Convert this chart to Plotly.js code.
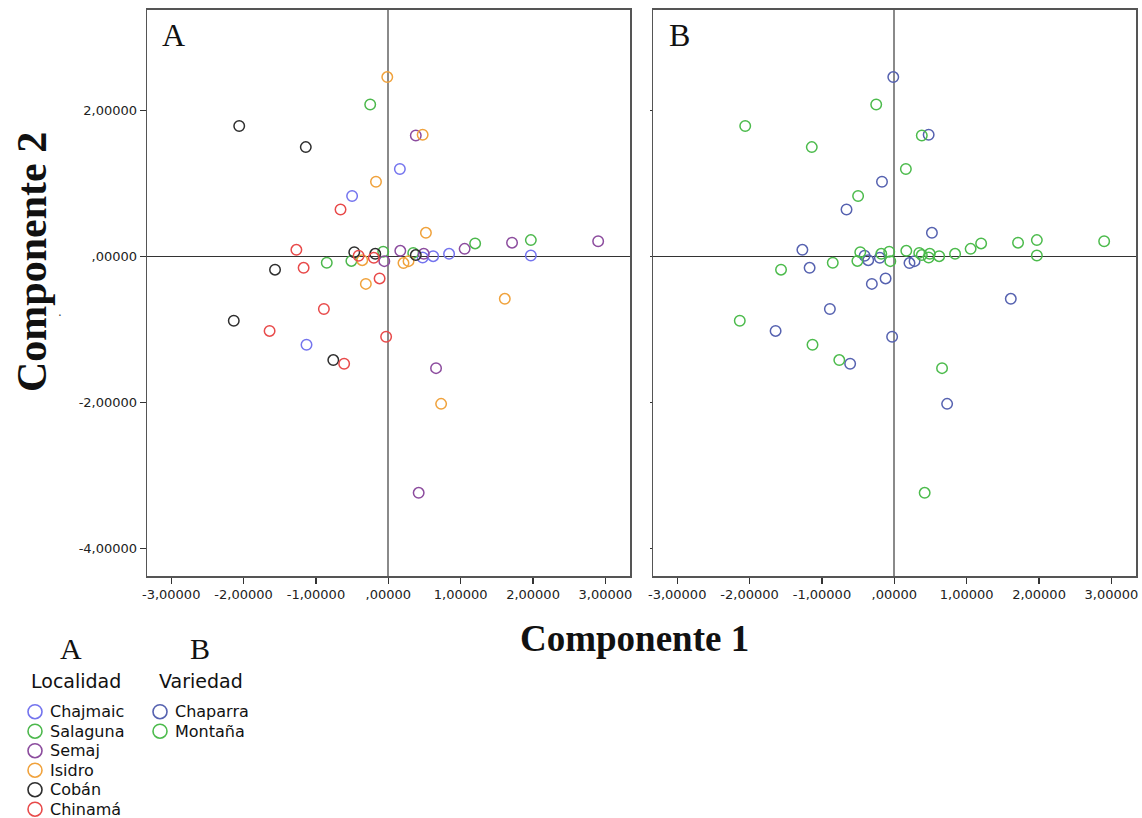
<!DOCTYPE html>
<html>
<head>
<meta charset="utf-8">
<script src="https://cdn.plot.ly/plotly-3.0.1.min.js"></script>
<style>html,body{margin:0;padding:0;background:#fff;}#chart{width:1142px;height:818px;}</style>
</head>
<body>
<div id="chart"></div>
<script>
// ---- Data ----
const localidades = ['Chajmaic', 'Salaguna', 'Semaj', 'Isidro', 'Cobán', 'Chinamá'];
const variedades = ['Chaparra', 'Montaña'];
const variedadDeLocalidad = ['Montaña', 'Montaña', 'Montaña', 'Chaparra', 'Montaña', 'Chaparra'];

const chajmaicX = [-0.50, 0.16, -1.13, 0.475, 0.62, 0.84, 1.97];
const chajmaicY = [0.83, 1.20, -1.21, -0.014, 0.005, 0.037, 0.014];
const salagunaX = [-0.25, -0.51, -0.85, -0.07, 0.345, 1.20, 1.97];
const salagunaY = [2.085, -0.06, -0.086, 0.065, 0.05, 0.18, 0.225];
const semajX = [0.38, -0.055, 0.166, 0.49, 1.055, 1.71, 2.90, 0.66, 0.42];
const semajY = [1.66, -0.063, 0.078, 0.037, 0.105, 0.19, 0.21, -1.53, -3.24];
const isidroX = [-0.014, -0.17, 0.475, -0.36, -0.31, 0.52, 0.21, 0.28, 1.61, 0.73];
const isidroY = [2.46, 1.025, 1.67, -0.05, -0.375, 0.325, -0.09, -0.063, -0.58, -2.02];
const cobanX = [-2.06, -1.14, -0.47, -1.565, -0.18, 0.38, -2.135, -0.76];
const cobanY = [1.79, 1.50, 0.06, -0.18, 0.037, 0.02, -0.88, -1.42];
const chinamaX = [-0.66, -1.27, -0.41, -1.17, -0.20, -0.12, -0.89, -1.64, -0.61, -0.03];
const chinamaY = [0.645, 0.092, 0.01, -0.155, -0.018, -0.30, -0.72, -1.02, -1.47, -1.10];

const xTickVals = [-3, -2, -1, 0, 1, 2, 3];
const xTickText = ['-3,00000', '-2,00000', '-1,00000', ',00000', '1,00000', '2,00000', '3,00000'];
const yTickVals = [2, 0, -2, -4];
const yTickText = ['2,00000', ',00000', '-2,00000', '-4,00000'];

// ---- Styles ----
const coloresLocalidad = ['#7474ee', '#4cb84c', '#8c4c9e', '#f0a23c', '#2e2e2e', '#e84a4a'];
const coloresVariedad = ['#5662b0', '#4cbb4c'];

const W = 1142, H = 818;
const px = v => v / W;
const py = v => 1 - v / H;

const seriesX = [chajmaicX, salagunaX, semajX, isidroX, cobanX, chinamaX];
const seriesY = [chajmaicY, salagunaY, semajY, isidroY, cobanY, chinamaY];

const traces = [];
localidades.forEach((name, i) => {
  traces.push({
    type: 'scatter', mode: 'markers', name: name,
    x: seriesX[i], y: seriesY[i], xaxis: 'x', yaxis: 'y',
    marker: {symbol: 'circle-open', size: 10.5, color: coloresLocalidad[i], line: {width: 1.5, color: coloresLocalidad[i]}},
    showlegend: false, hoverinfo: 'x+y+name'
  });
});
variedades.forEach((v, j) => {
  let xs = [], ys = [];
  localidades.forEach((name, i) => {
    if (variedadDeLocalidad[i] === v) { xs = xs.concat(seriesX[i]); ys = ys.concat(seriesY[i]); }
  });
  traces.push({
    type: 'scatter', mode: 'markers', name: v,
    x: xs, y: ys, xaxis: 'x2', yaxis: 'y2',
    marker: {symbol: 'circle-open', size: 10.5, color: coloresVariedad[j], line: {width: 1.5, color: coloresVariedad[j]}},
    showlegend: false, hoverinfo: 'x+y+name'
  });
});

const tickFont = {family: 'DejaVu Sans', size: 13, color: '#222'};
const xCommon = {
  range: [-3.33, 3.34], tickmode: 'array', tickvals: xTickVals, ticktext: xTickText,
  ticks: 'outside', ticklen: 6, tickwidth: 1.3, tickcolor: '#333', tickfont: tickFont,
  showline: true, mirror: true, linecolor: '#555', linewidth: 1.6,
  zeroline: true, zerolinecolor: '#8a8a8a', zerolinewidth: 2, showgrid: false, fixedrange: true
};
const yCommon = {
  range: [-4.38, 3.38], tickmode: 'array', tickvals: yTickVals, ticktext: yTickText,
  ticks: 'outside', ticklen: 6, tickwidth: 1.3, tickcolor: '#333', tickfont: tickFont,
  showline: true, mirror: true, linecolor: '#555', linewidth: 1.6,
  zeroline: true, zerolinecolor: '#333', zerolinewidth: 1.3, showgrid: false, fixedrange: true
};
const yDomain = [py(576), py(10)];

const annotations = [];
const shapes = [];
function addText(text, x, y, font, opts) {
  annotations.push(Object.assign({text: text, x: px(x), y: py(y), xref: 'paper', yref: 'paper',
    showarrow: false, font: font, xanchor: 'center', yanchor: 'middle'}, opts || {}));
}
const serif = 'Liberation Serif, Times New Roman, serif';
addText('A', 160, 35, {family: serif, size: 32, color: '#111'}, {xanchor: 'left'});
addText('B', 667, 35, {family: serif, size: 32, color: '#111'}, {xanchor: 'left'});
addText('<b>Componente 1</b>', 634.5, 638, {family: serif, size: 37, color: '#111'});
addText('<b>Componente 2</b>', 32, 262, {family: serif, size: 42, color: '#111'}, {textangle: -90});
addText('.', 60, 312, {family: 'DejaVu Sans', size: 12, color: '#444'});

// Legend blocks
addText('A', 71, 648, {family: serif, size: 30, color: '#111'});
addText('B', 200, 648, {family: serif, size: 30, color: '#111'});
const legFont = {family: 'DejaVu Sans', size: 16, color: '#111'};
addText('Localidad', 29, 681, {family: 'DejaVu Sans', size: 19, color: '#111'}, {xanchor: 'left'});
addText('Variedad', 157, 681, {family: 'DejaVu Sans', size: 19, color: '#111'}, {xanchor: 'left'});
function legendItem(label, color, cx, cy) {
  shapes.push({type: 'circle', xref: 'paper', yref: 'paper', xsizemode: 'pixel', ysizemode: 'pixel',
    xanchor: px(cx), yanchor: py(cy), x0: -7, x1: 7, y0: -7, y1: 7,
    line: {color: color, width: 1.6}, fillcolor: 'rgba(0,0,0,0)'});
  addText(label, cx + 13, cy, legFont, {xanchor: 'left'});
}
localidades.forEach((name, i) => legendItem(name, coloresLocalidad[i], 35, 711.7 + i * 19.5));
variedades.forEach((v, j) => legendItem(v, coloresVariedad[j], 160, 711.7 + j * 19.5));

const layout = {
  width: W, height: H, margin: {l: 0, r: 0, t: 0, b: 0},
  paper_bgcolor: '#fff', plot_bgcolor: '#fff', showlegend: false,
  xaxis: Object.assign({}, xCommon, {domain: [px(147.3), px(630)], anchor: 'y'}),
  yaxis: Object.assign({}, yCommon, {domain: yDomain, anchor: 'x'}),
  xaxis2: Object.assign({}, xCommon, {domain: [px(653.3), px(1136)], anchor: 'y2'}),
  yaxis2: Object.assign({}, yCommon, {domain: yDomain, anchor: 'x2', showticklabels: false, ticklen: 2}),
  annotations: annotations, shapes: shapes
};

Plotly.newPlot('chart', traces, layout, {displayModeBar: false, staticPlot: true});
</script>
</body>
</html>
